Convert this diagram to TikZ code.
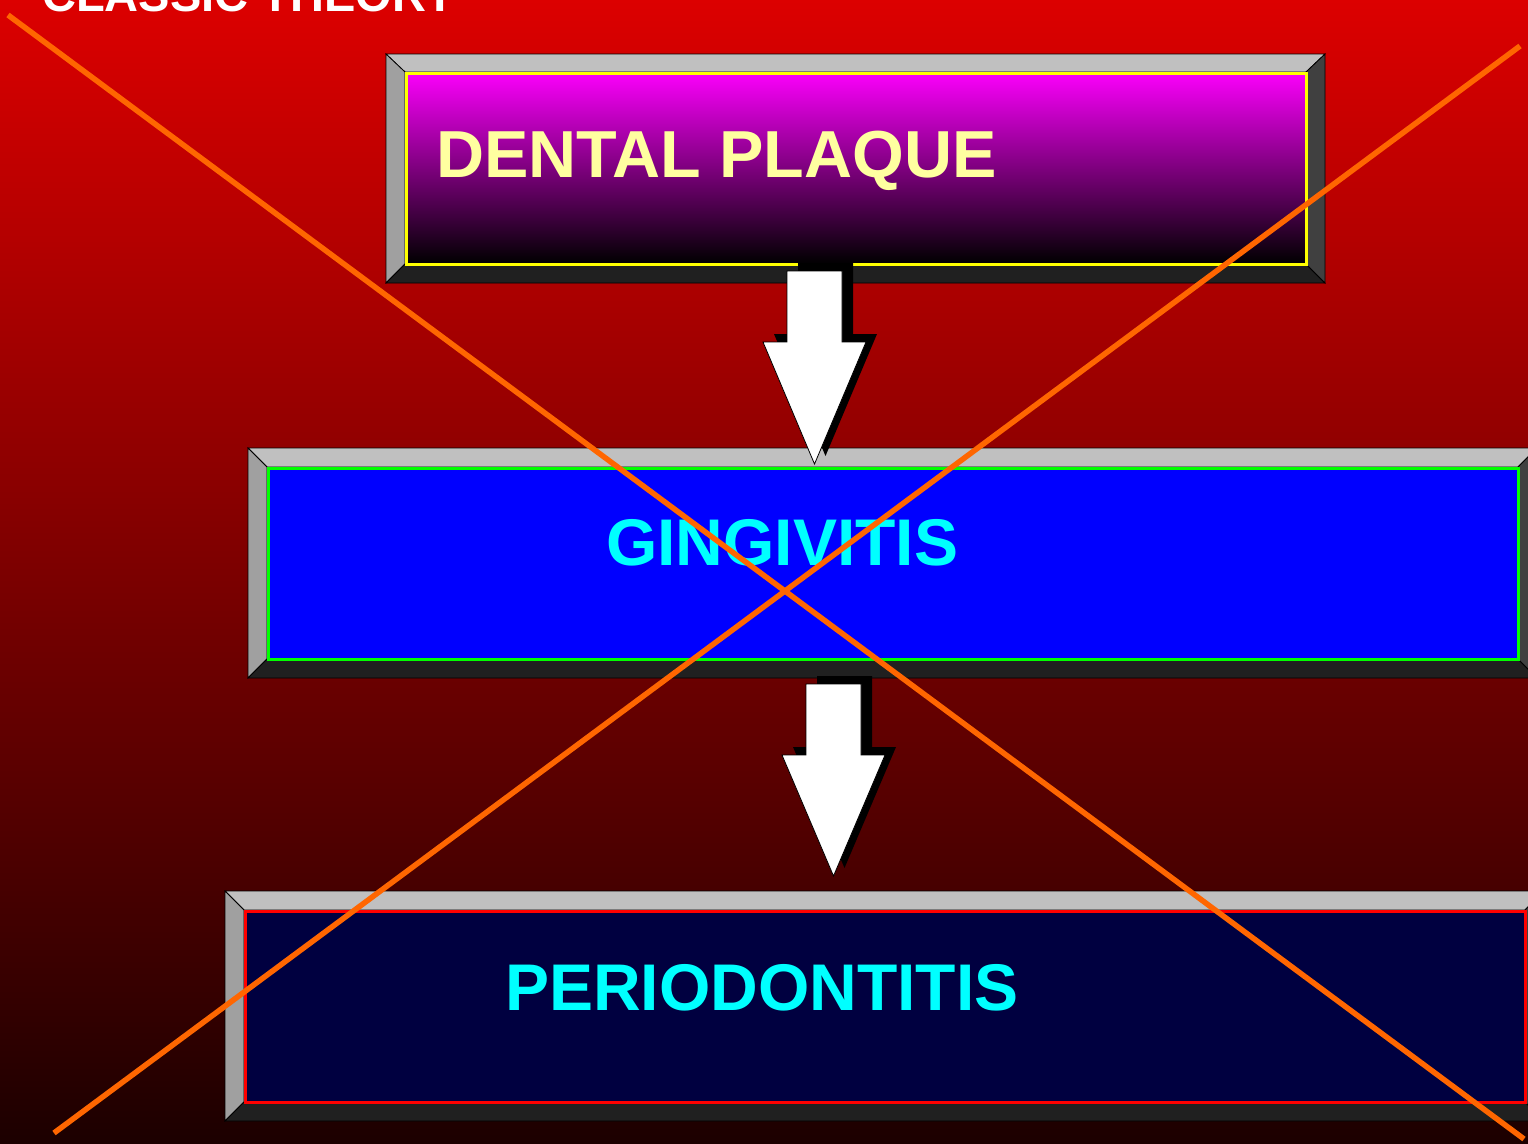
\documentclass[tikz,border=0pt]{standalone}
\usepackage{fontspec}
\setmainfont{Liberation Sans}
\definecolor{bgtop}{RGB}{220,0,0}
\definecolor{bgbot}{RGB}{28,0,0}
\definecolor{bevT}{RGB}{192,192,192}
\definecolor{bevL}{RGB}{160,160,160}
\definecolor{bevB}{RGB}{32,32,32}
\definecolor{bevR}{RGB}{64,64,64}
\definecolor{magtop}{RGB}{250,0,250}
\definecolor{lightyel}{RGB}{255,255,160}
\definecolor{navyfill}{RGB}{0,0,64}
\definecolor{xorange}{RGB}{255,102,0}
\definecolor{pureblue}{RGB}{0,0,255}
\definecolor{puregreen}{RGB}{0,255,0}
\definecolor{purered}{RGB}{255,0,0}
\definecolor{purecyan}{RGB}{0,255,255}
\definecolor{pureyel}{RGB}{255,255,0}
\tikzset{
  bevelface/.style={draw=black, line width=0.8pt, line join=miter},
  innerbox/.style={rectangle, inner sep=0pt, outer sep=0pt, line width=3pt, anchor=north west},
  bigtext/.style={inner sep=0pt, anchor=base west, font=\fontsize{66}{66}\selectfont\bfseries},
  arrowshape/.style={fill=white, draw=black, line width=0.8pt, line join=miter},
  arrowshadow/.style={fill=black},
  crossline/.style={draw=xorange, line width=5.5pt},
}
\newcommand{\bevelframe}[8]{%
  % outer X1 Y1 X2 Y2, inner x1 y1 x2 y2
  \fill[bevT,bevelface] (#1,#2) -- (#3,#2) -- (#7,#6) -- (#5,#6) -- cycle;
  \fill[bevL,bevelface] (#1,#2) -- (#5,#6) -- (#5,#8) -- (#1,#4) -- cycle;
  \fill[bevB,bevelface] (#1,#4) -- (#5,#8) -- (#7,#8) -- (#3,#4) -- cycle;
  \fill[bevR,bevelface] (#3,#2) -- (#3,#4) -- (#7,#8) -- (#7,#6) -- cycle;
}
\begin{document}
\begin{tikzpicture}[x=1pt,y=-1pt]
\useasboundingbox (0,0) rectangle (1528,1143);
\clip (0,0) rectangle (1528,1143);
% background
\shade[top color=bgtop, bottom color=bgbot] (0,0) rectangle (1528,1143);
% title (cut at top, as in the reference)
\node[inner sep=0pt, anchor=base west, text=white, font=\fontsize{47}{47}\selectfont\bfseries] (title) at (42,12) {CLASSIC THEORY};

% box 1
\bevelframe{386}{54}{1325}{283}{405}{72}{1306}{264}
\node[innerbox, draw=pureyel, top color=magtop, bottom color=black, minimum width=900pt, minimum height=191pt] (b1) at (406,73) {};
\node[bigtext, text=lightyel, font=\fontsize{66.5}{66}\selectfont\bfseries] (t1) at (436,177) {DENTAL PLAQUE};

% box 2
\bevelframe{248}{448}{1537}{678}{267}{467}{1518}{659}
\node[innerbox, draw=puregreen, fill=pureblue, minimum width=1250pt, minimum height=191pt] (b2) at (268,468) {};
\node[bigtext, text=purecyan] (t2) at (606,565) {GINGIVITIS};

% box 3
\bevelframe{225}{891}{1544}{1121}{244}{910}{1525}{1102}
\node[innerbox, draw=purered, fill=navyfill, minimum width=1280pt, minimum height=191pt] (b3) at (245,911) {};
\node[bigtext, text=purecyan] (t3) at (505,1010) {PERIODONTITIS};

% arrow 1 (plaque -> gingivitis)
\begin{scope}[shift={(11,-8)}]
  \fill[arrowshadow] (787,271) -- (842,271) -- (842,342) -- (866,342) -- (814.5,464) -- (763,342) -- (787,342) -- cycle;
\end{scope}
\path[arrowshape] (787,271) -- (842,271) -- (842,342) -- (866,342) -- (814.5,464) -- (763,342) -- (787,342) -- cycle;

% arrow 2 (gingivitis -> periodontitis)
\begin{scope}[shift={(11,-8)}]
  \fill[arrowshadow] (806,684) -- (861,684) -- (861,755) -- (885,755) -- (833.5,876) -- (782,755) -- (806,755) -- cycle;
\end{scope}
\path[arrowshape] (806,684) -- (861,684) -- (861,755) -- (885,755) -- (833.5,876) -- (782,755) -- (806,755) -- cycle;

% crossing lines
\coordinate (c1a) at (8,15);
\coordinate (c1b) at (1524,1139);
\coordinate (c2a) at (1520,46);
\coordinate (c2b) at (54,1133);
\draw[crossline] (c1a) -- (c1b);
\draw[crossline] (c2a) -- (c2b);
\end{tikzpicture}
\end{document}
